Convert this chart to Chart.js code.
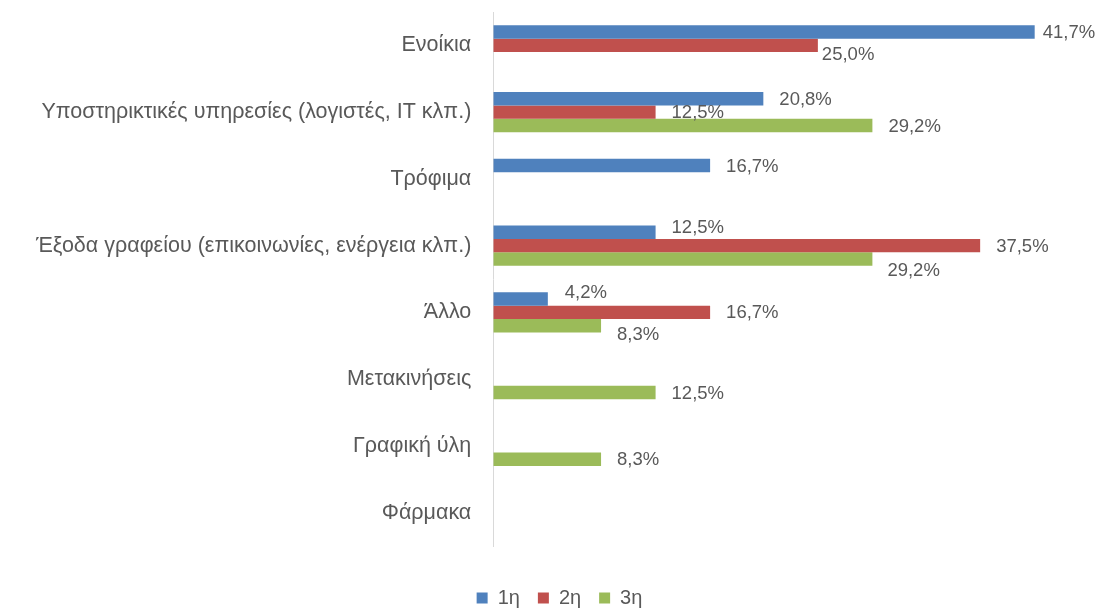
<!DOCTYPE html>
<html>
<head>
<meta charset="utf-8">
<script src="https://cdn.jsdelivr.net/npm/chart.js@4"></script>
<style>
  html, body { margin: 0; padding: 0; background: #fff; }
  #wrap { width: 1100px; height: 610px; }
</style>
</head>
<body>
<div id="wrap"><canvas id="chart"></canvas></div>
<script>
const categories = [
  'Ενοίκια',
  'Υποστηρικτικές υπηρεσίες (λογιστές, IT κλπ.)',
  'Τρόφιμα',
  'Έξοδα γραφείου (επικοινωνίες, ενέργεια κλπ.)',
  'Άλλο',
  'Μετακινήσεις',
  'Γραφική ύλη',
  'Φάρμακα'
];
const first = [41.7, 20.8, 16.7, 12.5, 4.2, null, null, null];
const second = [25.0, 12.5, null, 37.5, 16.7, null, null, null];
const third = [null, 29.2, null, 29.2, 8.3, 12.5, 8.3, null];
const seriesNames = ['1η', '2η', '3η'];

const FONT = '"Liberation Sans", Arial, sans-serif';
const TEXT = '#595959';

// Excel nudged a few labels to avoid overlaps: [dx, dy] per dataset-index
const labelShift = {
  '0-0': [-8, 0],
  '1-0': [-12, 9],
  '0-3': [0, -5],
  '2-3': [-1, 11],
  '0-4': [1, -7],
  '2-4': [0, 8]
};

const valueLabels = {
  id: 'valueLabels',
  afterDatasetsDraw(chart) {
    const ctx = chart.ctx;
    ctx.save();
    ctx.font = '18.5px ' + FONT;
    ctx.fillStyle = TEXT;
    ctx.textBaseline = 'middle';
    ctx.textAlign = 'left';
    chart.data.datasets.forEach((ds, di) => {
      chart.getDatasetMeta(di).data.forEach((el, i) => {
        const v = ds.data[i];
        if (v == null) return;
        const s = labelShift[di + '-' + i] || [0, 0];
        const txt = v.toFixed(1).replace('.', ',') + '%';
        ctx.fillText(txt, el.x + 16 + s[0], el.y + 1 + s[1]);
      });
    });
    ctx.restore();
  }
};

new Chart(document.getElementById('chart'), {
  type: 'bar',
  data: {
    labels: categories,
    datasets: [
      { label: seriesNames[0], data: first, backgroundColor: '#4f81bd' },
      { label: seriesNames[1], data: second, backgroundColor: '#c0504d' },
      { label: seriesNames[2], data: third, backgroundColor: '#9bbb59' }
    ]
  },
  options: {
    indexAxis: 'y',
    responsive: true,
    maintainAspectRatio: false,
    animation: false,
    layout: { padding: { top: 12, right: 3, left: 22, bottom: -8 } },
    datasets: { bar: { categoryPercentage: 0.6, barPercentage: 1.0 } },
    scales: {
      x: { display: false, min: 0, max: 46.5 },
      y: {
        grid: { display: false },
        border: { display: true, color: '#d9d9d9', width: 1 },
        ticks: { color: TEXT, font: { family: FONT, size: 21.5 }, padding: 14 },
        afterFit(scale) {
          scale.paddingTop = 0;
          scale.paddingBottom = 0;
        }
      }
    },
    plugins: {
      legend: {
        position: 'bottom',
        title: { display: true, text: '', padding: 6, font: { size: 10 } },
        labels: {
          color: TEXT,
          font: { family: FONT, size: 20 },
          boxWidth: 11,
          boxHeight: 11,
          padding: 18
        }
      },
      tooltip: { enabled: false }
    }
  },
  plugins: [valueLabels]
});
</script>
</body>
</html>
